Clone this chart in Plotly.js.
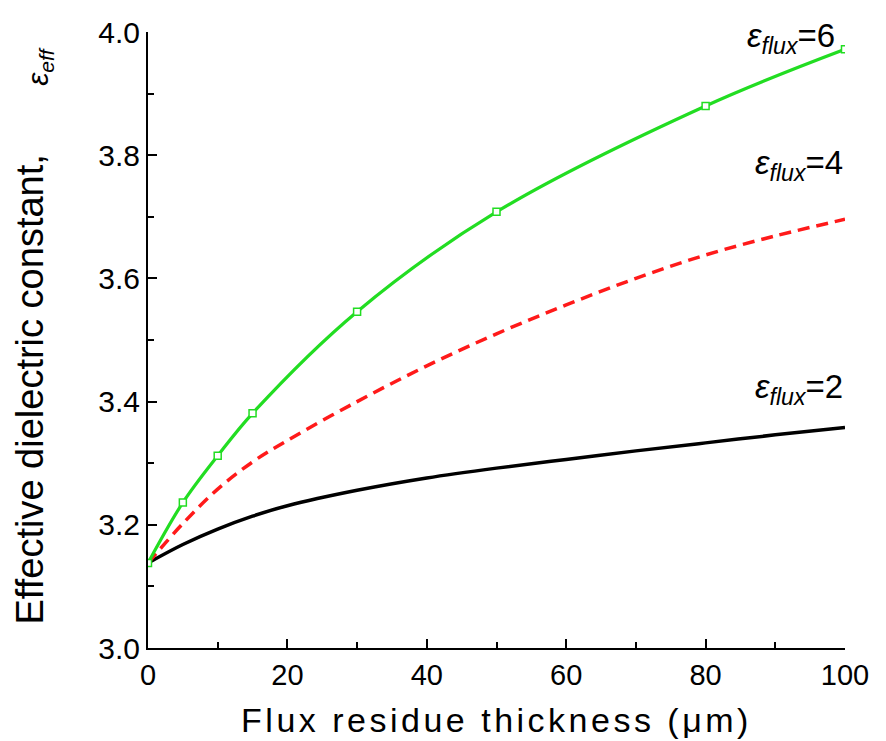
<!DOCTYPE html>
<html>
<head>
<meta charset="utf-8">
<script src="https://cdn.plot.ly/plotly-3.0.1.min.js"></script>
<style>
html,body{margin:0;padding:0;background:#fff;}
#chart{width:886px;height:741px;}
text.xtitle{letter-spacing:3.5px;}
</style>
</head>
<body>
<div id="chart"></div>
<script>
// Data
const xMarkers6 = [0, 5, 10, 15, 30, 50, 80, 100];
const eps6 = [3.138, 3.236, 3.312, 3.381, 3.546, 3.708, 3.880, 3.972];

const xCurve = [0, 5, 10, 15, 20, 30, 40, 50, 60, 70, 80, 90, 100];
const eps4 = [3.138, 3.202, 3.258, 3.302, 3.337, 3.400, 3.458, 3.510, 3.557, 3.600, 3.638, 3.669, 3.696];
const eps2 = [3.138, 3.168, 3.193, 3.214, 3.231, 3.256, 3.276, 3.292, 3.306, 3.320, 3.333, 3.346, 3.358];

const labels = ["<i>ε</i><sub><i>flux</i></sub>=6", "<i>ε</i><sub><i>flux</i></sub>=4", "<i>ε</i><sub><i>flux</i></sub>=2"];
const xTitle = "Flux residue thickness (μm)";
const yTitle = "Effective dielectric constant,";
const yTitleSym = "<i>ε</i><sub><i>eff</i></sub>";

const FONT = "Liberation Sans, Arial, sans-serif";

const traces = [
  {x: xCurve, y: eps2, mode: "lines", line: {color: "#000000", width: 3.5, shape: "spline"}, showlegend: false},
  {x: xCurve, y: eps4, mode: "lines", line: {color: "#ff1a1a", width: 3.5, dash: "12px,7px", shape: "spline"}, showlegend: false},
  {x: xMarkers6, y: eps6, mode: "lines+markers", line: {color: "#22dd22", width: 3.2, shape: "spline"},
   marker: {symbol: "square", size: 7, color: "#ffffff", line: {width: 1.5, color: "#22dd22"}}, showlegend: false}
];

const layout = {
  width: 886, height: 741,
  margin: {l: 148, r: 41, t: 32, b: 93},
  paper_bgcolor: "#ffffff", plot_bgcolor: "#ffffff",
  font: {family: FONT, color: "#000"},
  xaxis: {
    range: [0, 100], dtick: 20, tick0: 0,
    showgrid: false, zeroline: false,
    showline: true, linecolor: "#000", linewidth: 2,
    ticks: "inside", ticklen: 9, tickwidth: 2, tickcolor: "#000",
    minor: {dtick: 10, ticks: "inside", ticklen: 6, tickwidth: 2, tickcolor: "#000", showgrid: false},
    tickfont: {size: 29, family: FONT},
    title: {text: xTitle, font: {size: 34, family: FONT}, standoff: 18}
  },
  yaxis: {
    range: [3.0, 4.0], dtick: 0.2, tick0: 3.0, tickformat: ".1f",
    showgrid: false, zeroline: false,
    showline: true, linecolor: "#000", linewidth: 2,
    ticks: "inside", ticklen: 9, tickwidth: 2, tickcolor: "#000",
    minor: {dtick: 0.1, ticks: "inside", ticklen: 6, tickwidth: 2, tickcolor: "#000", showgrid: false},
    tickfont: {size: 30, family: FONT}
  },
  annotations: [
    {x: 98.85, y: 3.99, xref: "x", yref: "y", text: labels[0], showarrow: false, xanchor: "right", yanchor: "middle", font: {size: 33, family: FONT}},
    {x: 100, y: 3.784, xref: "x", yref: "y", text: labels[1], showarrow: false, xanchor: "right", yanchor: "middle", font: {size: 33, family: FONT}},
    {x: 100, y: 3.42, xref: "x", yref: "y", text: labels[2], showarrow: false, xanchor: "right", yanchor: "middle", font: {size: 33, family: FONT}},
    {x: -0.169, y: 0.42, xref: "paper", yref: "paper", text: yTitle, showarrow: false, textangle: -90, xanchor: "center", yanchor: "middle", font: {size: 38, family: FONT}},
    {x: -0.155, y: 0.945, xref: "paper", yref: "paper", text: yTitleSym, showarrow: false, textangle: -90, xanchor: "center", yanchor: "middle", font: {size: 30, family: FONT}}
  ]
};

Plotly.newPlot("chart", traces, layout, {staticPlot: true, displayModeBar: false});
</script>
</body>
</html>
